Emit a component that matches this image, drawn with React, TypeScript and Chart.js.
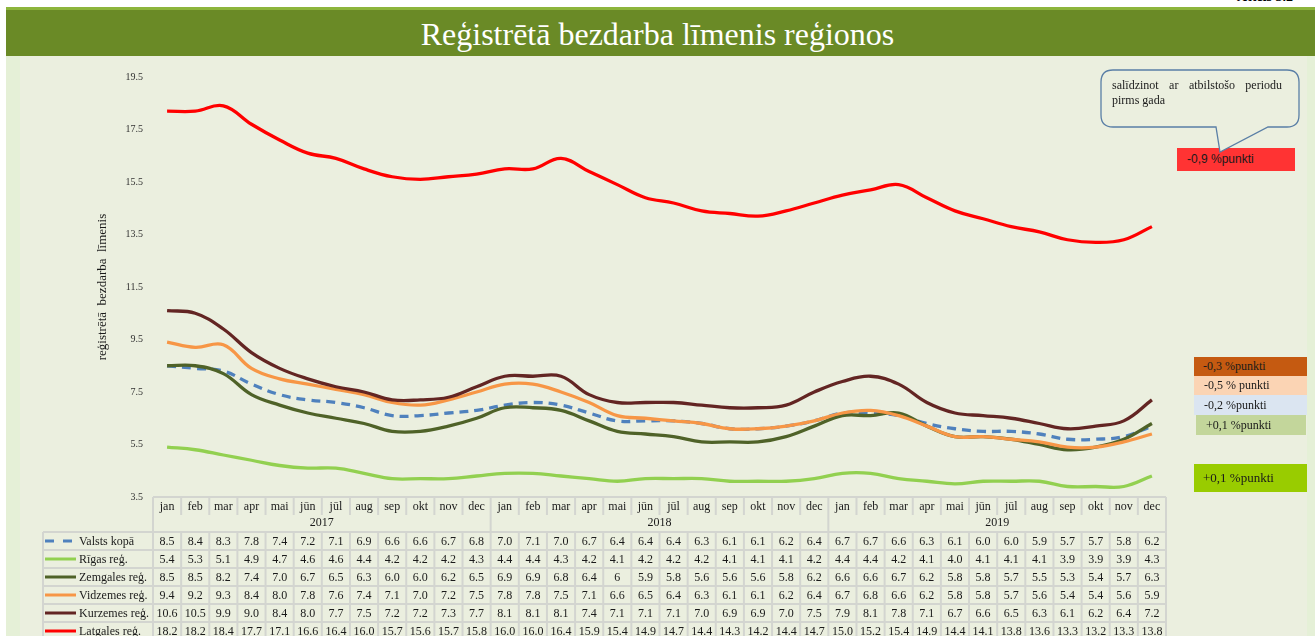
import React, { useEffect, useRef } from "react";
import { Chart, registerables } from "chart.js";

Chart.register(...registerables);

const SERIF = '"Liberation Serif", "Times New Roman", serif';
const SANS = '"Liberation Sans", Arial, sans-serif';

const chartTitle = "Reģistrētā bezdarba līmenis reģionos";
const figureLabel = "Attēls 3.2";
const yAxisTitle = "reģistrētā  bezdarba  līmenis";

const months = ["jan", "feb", "mar", "apr", "mai", "jūn", "jūl", "aug", "sep", "okt", "nov", "dec"];
const years = ["2017", "2018", "2019"];
const categories = years.flatMap((y) => months.map((m) => `${m} ${y}`));
const yTicks = [3.5, 5.5, 7.5, 9.5, 11.5, 13.5, 15.5, 17.5, 19.5];

// table values as printed (strings), also used as the plotted values
const valsts = ["8.5","8.4","8.3","7.8","7.4","7.2","7.1","6.9","6.6","6.6","6.7","6.8","7.0","7.1","7.0","6.7","6.4","6.4","6.4","6.3","6.1","6.1","6.2","6.4","6.7","6.7","6.6","6.3","6.1","6.0","6.0","5.9","5.7","5.7","5.8","6.2"];
const riga = ["5.4","5.3","5.1","4.9","4.7","4.6","4.6","4.4","4.2","4.2","4.2","4.3","4.4","4.4","4.3","4.2","4.1","4.2","4.2","4.2","4.1","4.1","4.1","4.2","4.4","4.4","4.2","4.1","4.0","4.1","4.1","4.1","3.9","3.9","3.9","4.3"];
const zemgale = ["8.5","8.5","8.2","7.4","7.0","6.7","6.5","6.3","6.0","6.0","6.2","6.5","6.9","6.9","6.8","6.4","6","5.9","5.8","5.6","5.6","5.6","5.8","6.2","6.6","6.6","6.7","6.2","5.8","5.8","5.7","5.5","5.3","5.4","5.7","6.3"];
const vidzeme = ["9.4","9.2","9.3","8.4","8.0","7.8","7.6","7.4","7.1","7.0","7.2","7.5","7.8","7.8","7.5","7.1","6.6","6.5","6.4","6.3","6.1","6.1","6.2","6.4","6.7","6.8","6.6","6.2","5.8","5.8","5.7","5.6","5.4","5.4","5.6","5.9"];
const kurzeme = ["10.6","10.5","9.9","9.0","8.4","8.0","7.7","7.5","7.2","7.2","7.3","7.7","8.1","8.1","8.1","7.4","7.1","7.1","7.1","7.0","6.9","6.9","7.0","7.5","7.9","8.1","7.8","7.1","6.7","6.6","6.5","6.3","6.1","6.2","6.4","7.2"];
const latgale = ["18.2","18.2","18.4","17.7","17.1","16.6","16.4","16.0","15.7","15.6","15.7","15.8","16.0","16.0","16.4","15.9","15.4","14.9","14.7","14.4","14.3","14.2","14.4","14.7","15.0","15.2","15.4","14.9","14.4","14.1","13.8","13.6","13.3","13.2","13.3","13.8"];

const seriesNames = ["Valsts kopā", "Rīgas reģ.", "Zemgales reģ.", "Vidzemes reģ.", "Kurzemes reģ.", "Latgales reģ."];
const seriesValues = [valsts, riga, zemgale, vidzeme, kurzeme, latgale];
const seriesColors = ["#4f81bd", "#92d050", "#4f6228", "#f79646", "#632523", "#ff0000"];
const seriesDashes: number[][] = [[9, 6], [], [], [], [], []];

const changeLabels = ["-0,9 %punkti", "-0,3 %punkti", "-0,5 % punkti", "-0,2 %punkti", "+0,1 %punkti", "+0,1 %punkti"];
const calloutLines = ["salīdzinot ar atbilstošo periodu", "pirms gada"];

const tablePlugin = {
  id: "dataTable",
  afterDraw(chart: any) {
    const { ctx, chartArea } = chart;
    const xs = chart.scales.x;
    const n = categories.length;
    const centers = categories.map((_, i) => xs.getPixelForValue(i));
    const half = (centers[1] - centers[0]) / 2;
    const edges = [centers[0] - half, ...centers.map((c: number) => c + half)];
    const top = chartArea.bottom;
    const monthBottom = top + 18;
    const yearBottom = top + 35;
    const rowH = 18;
    const legendLeft = 43;
    const tableLeft = edges[0];
    const tableRight = edges[n];
    const bottom = yearBottom + rowH * seriesNames.length;
    const line = (x1: number, y1: number, x2: number, y2: number) => {
      ctx.beginPath();
      ctx.moveTo(x1, y1);
      ctx.lineTo(x2, y2);
      ctx.stroke();
    };
    ctx.save();
    ctx.strokeStyle = "#d3d5d0";
    ctx.lineWidth = 2;
    line(tableLeft, top, tableRight, top);
    edges.forEach((e: number, i: number) => {
      if (i % 12 === 0) line(e, top, e, bottom);
      else {
        line(e, top, e, monthBottom);
        line(e, yearBottom, e, bottom);
      }
    });
    line(legendLeft, yearBottom, legendLeft, bottom);
    for (let r = 0; r <= seriesNames.length; r++) {
      line(legendLeft, yearBottom + r * rowH, tableRight, yearBottom + r * rowH);
    }
    ctx.fillStyle = "#1a1a1a";
    ctx.font = `12px ${SERIF}`;
    ctx.textAlign = "center";
    ctx.textBaseline = "middle";
    centers.forEach((c: number, i: number) => ctx.fillText(months[i % 12], c, top + 10));
    years.forEach((y, k) => ctx.fillText(y, (edges[k * 12] + edges[k * 12 + 12]) / 2, top + 26));
    seriesNames.forEach((name, r) => {
      const cy = yearBottom + r * rowH + rowH / 2;
      ctx.textAlign = "center";
      seriesValues[r].forEach((v, i) => ctx.fillText(v, centers[i], cy + 0.5));
      ctx.strokeStyle = seriesColors[r];
      ctx.lineWidth = 3;
      ctx.setLineDash(r === 0 ? [9, 9] : []);
      line(45, cy, 76, cy);
      ctx.setLineDash([]);
      ctx.textAlign = "left";
      ctx.fillText(name, 79, cy + 0.5);
    });
    ctx.restore();
  },
};

export default function App() {
  const canvasRef = useRef<HTMLCanvasElement | null>(null);

  useEffect(() => {
    if (!canvasRef.current) return;
    const chart = new Chart(canvasRef.current, {
      type: "line",
      data: {
        labels: categories,
        datasets: seriesNames.map((name, i) => ({
          label: name,
          data: seriesValues[i].map(Number),
          borderColor: seriesColors[i],
          backgroundColor: seriesColors[i],
          borderWidth: 3.3,
          borderDash: seriesDashes[i],
          pointRadius: 0,
          tension: 0.4,
          fill: false,
          order: seriesNames.length - i,
        })),
      },
      options: {
        responsive: false,
        animation: false,
        devicePixelRatio: 1,
        layout: { padding: { left: 83, right: 149, top: 77, bottom: 139 } },
        plugins: {
          legend: { display: false },
          tooltip: { enabled: false },
          title: { display: false },
        },
        scales: {
          x: { display: false, offset: true },
          y: {
            min: 3.5,
            max: 19.5,
            afterBuildTicks: (s: any) => {
              s.ticks = yTicks.map((v) => ({ value: v }));
            },
            afterFit: (s: any) => {
              s.width = 70;
            },
            grid: { display: false, drawTicks: false },
            border: { display: false },
            ticks: {
              padding: 10,
              color: "#333333",
              font: { family: SERIF, size: 10 },
              callback: (v: any) => Number(v).toFixed(1),
            },
            title: {
              display: true,
              text: yAxisTitle,
              color: "#1a1a1a",
              font: { family: SERIF, size: 13 },
              padding: { top: 12, bottom: 0 },
            },
          },
        },
      },
      plugins: [tablePlugin],
    });
    return () => chart.destroy();
  }, []);

  const box = (left: number, top: number, w: number, h: number, bg: string, text: string, pad: number, font: string, size: number) => (
    <div
      style={{
        position: "absolute",
        left,
        top,
        width: w,
        height: h,
        background: bg,
        boxSizing: "border-box",
        paddingLeft: pad,
        lineHeight: `${h}px`,
        fontFamily: font,
        fontSize: size,
        color: "#1a1a1a",
        whiteSpace: "pre",
      }}
    >
      {text}
    </div>
  );

  return (
    <div style={{ position: "fixed", left: 0, top: 0, width: 1315, height: 636, overflow: "hidden", background: "#ffffff" }}>
      <div style={{ position: "absolute", left: 1100, top: -11, width: 193, textAlign: "right", fontFamily: SERIF, fontWeight: "bold", fontSize: 14, color: "#000" }}>
        {figureLabel}
      </div>
      <div style={{ position: "absolute", left: 6, top: 7, width: 1309, height: 3, background: "#8db53c" }} />
      <div style={{ position: "absolute", left: 6, top: 10, width: 1309, height: 46, background: "#6a8a26" }} />
      <div
        style={{
          position: "absolute",
          left: 6,
          top: 11,
          width: 1303,
          height: 46,
          lineHeight: "46px",
          textAlign: "center",
          color: "#ffffff",
          fontFamily: SERIF,
          fontSize: 32,
        }}
      >
        {chartTitle}
      </div>
      <div style={{ position: "absolute", left: 6, top: 56, width: 1309, height: 580, background: "#ebefdf" }} />
      <div style={{ position: "absolute", left: 6, top: 56, width: 14, height: 580, background: "#e5f0d7" }} />
      <div style={{ position: "absolute", left: 1307, top: 56, width: 8, height: 580, background: "#e5f0d7" }} />
      <canvas ref={canvasRef} width={1315} height={636} style={{ position: "absolute", left: 0, top: 0, width: 1315, height: 636 }} />
      {box(1177, 148, 118, 23, "#ff3333", changeLabels[0], 10, SANS, 12)}
      {box(1194, 357, 113, 19, "#c55a11", changeLabels[1], 9, SERIF, 12)}
      {box(1194, 376, 113, 19, "#fbd4b4", changeLabels[2], 10, SERIF, 12)}
      {box(1194, 395, 113, 20, "#dbe5f1", changeLabels[3], 10, SERIF, 12)}
      {box(1196, 415, 110, 20, "#c3d69b", changeLabels[4], 10, SERIF, 12)}
      {box(1194, 464, 113, 28, "#99cc00", changeLabels[5], 9, SERIF, 13)}
      <svg width={1315} height={636} style={{ position: "absolute", left: 0, top: 0 }}>
        <path
          d="M 1113 70 H 1287 Q 1299 70 1299 82 V 115 Q 1299 127 1287 127 H 1268 L 1220 152 L 1216 127 H 1113 Q 1101 127 1101 115 V 82 Q 1101 70 1113 70 Z"
          fill="#ebefdf"
          stroke="#5a7fa6"
          strokeWidth={1.3}
        />
      </svg>
      <div style={{ position: "absolute", left: 1112, top: 78, width: 170, fontFamily: SERIF, fontSize: 12, color: "#1a1a1a", textAlign: "justify", textAlignLast: "justify", whiteSpace: "nowrap" } as any}>
        {calloutLines[0]}
      </div>
      <div style={{ position: "absolute", left: 1112, top: 93, width: 170, fontFamily: SERIF, fontSize: 12, color: "#1a1a1a" }}>
        {calloutLines[1]}
      </div>
    </div>
  );
}
